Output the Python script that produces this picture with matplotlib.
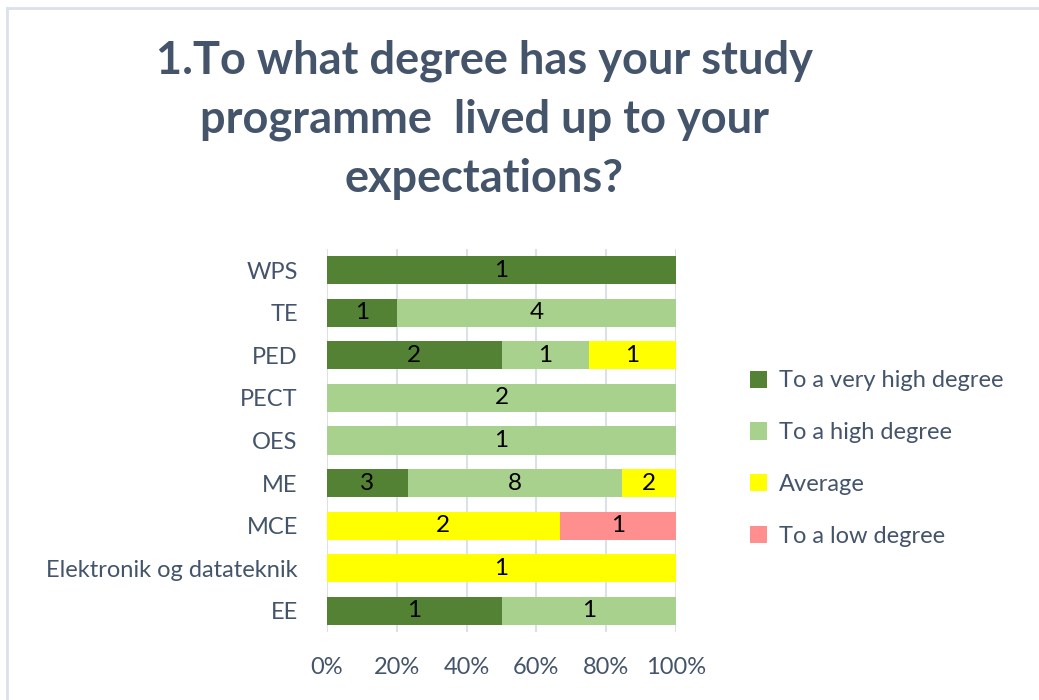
import matplotlib.pyplot as plt
import numpy as np

plt.rcParams['font.family'] = ['Lato', 'DejaVu Sans']

categories = ['WPS', 'TE', 'PED', 'PECT', 'OES', 'ME', 'MCE',
              'Elektronik og datateknik', 'EE']
series_names = ['To a very high degree', 'To a high degree', 'Average', 'To a low degree']
very_high = [1, 1, 2, 0, 0, 3, 0, 0, 1]
high = [0, 4, 1, 2, 1, 8, 0, 0, 1]
average = [0, 0, 1, 0, 0, 2, 2, 1, 0]
low = [0, 0, 0, 0, 0, 0, 1, 0, 0]
colors = ['#548235', '#A9D18E', '#FFFF00', '#FF8F8F']
x_ticks = [0, 20, 40, 60, 80, 100]

text_col = '#44546A'

fig = plt.figure(figsize=(10.39, 7), dpi=100)
fig.patch.set_facecolor('white')

# chart frame (top and left edges visible)
fig.add_artist(plt.Line2D([0.0067, 1.0], [0.989, 0.989], color='#DCE1E8', lw=2, transform=fig.transFigure))
fig.add_artist(plt.Line2D([0.0067, 0.0067], [0.0, 0.989], color='#DCE1E8', lw=2, transform=fig.transFigure))

ax = fig.add_axes([0.3147, 0.0967, 0.336, 0.548])

series = np.array([very_high, high, average, low], dtype=float)
totals = series.sum(axis=0)
pct = series / totals * 100
y = np.arange(len(categories))[::-1]

left = np.zeros(len(categories))
for i, name in enumerate(series_names):
    ax.barh(y, pct[i], left=left, height=0.66, color=colors[i], label=name, zorder=3)
    for j in range(len(categories)):
        if series[i][j] > 0:
            ax.text(left[j] + pct[i][j] / 2, y[j], f'{int(series[i][j])}',
                    ha='center', va='center', fontsize=17.5, color='black', zorder=4)
    left += pct[i]

ax.set_xlim(0, 100)
ax.set_ylim(-0.5, len(categories) - 0.5)
ax.set_xticks(x_ticks)
ax.set_xticklabels([f'{t}%' for t in x_ticks])
ax.set_yticks(y)
ax.set_yticklabels(categories)
ax.tick_params(axis='both', length=0, labelsize=17, colors=text_col)
ax.tick_params(axis='x', pad=18)
ax.tick_params(axis='y', pad=21)
ax.grid(axis='x', color='#DCE1E8', lw=1.5, zorder=0)
for s in ax.spines.values():
    s.set_visible(False)

fig.text(0.466, 0.913, '1.To what degree has your study', ha='center', va='center',
         fontsize=32.5, fontweight='bold', color=text_col)
fig.text(0.466, 0.829, 'programme  lived up to your', ha='center', va='center',
         fontsize=32.5, fontweight='bold', color=text_col)
fig.text(0.466, 0.745, 'expectations?', ha='center', va='center',
         fontsize=32.5, fontweight='bold', color=text_col)

leg = fig.legend(loc='center left', bbox_to_anchor=(0.701, 0.345), frameon=False,
                 fontsize=17, labelcolor=text_col, handlelength=0.75, handleheight=0.75,
                 handletextpad=0.5, labelspacing=1.3)

fig.savefig('out.png', dpi=100, facecolor='white')
